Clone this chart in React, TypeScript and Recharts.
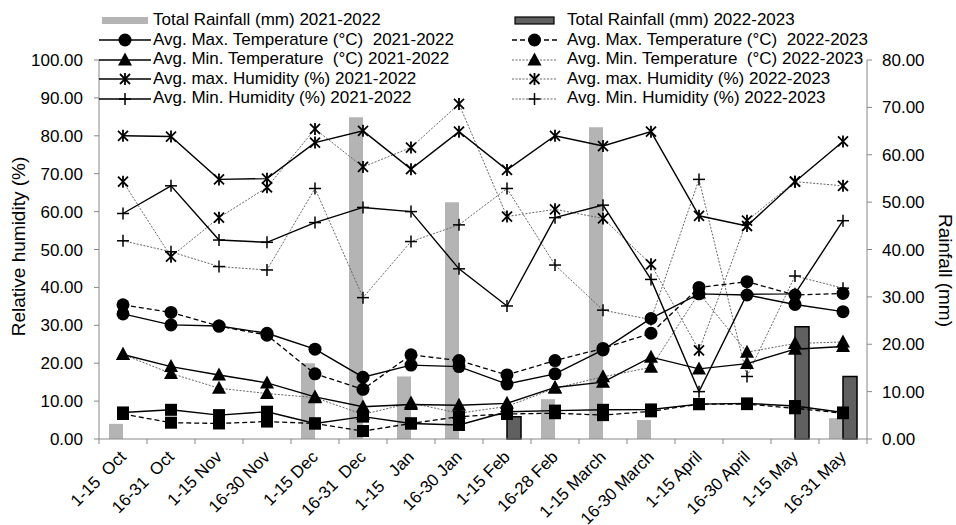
import React from 'react';
import { ComposedChart, Bar, Line, XAxis, YAxis, Legend } from 'recharts';

const FONT = '"Liberation Sans", Arial, sans-serif';

const categories = [
  '1-15  Oct', '16-31  Oct', '1-15 Nov', '16-30 Nov', '1-15 Dec', '16-31  Dec', '1-15   Jan', '16-30 Jan',
  '1-15 Feb', '16-28 Feb', '1-15 March', '16-30 March', '1-15 April', '16-30 April', '1-15 May', '16-31 May',
];

// rainfall (mm), right axis
const rain2122 = [3.2, 0, 0, 0, 16.0, 67.9, 13.2, 50.0, 0, 8.4, 65.8, 4.0, 0, 0, 0, 4.4];
const rain2223 = [0, 0, 0, 0, 0, 0, 0, 0, 4.7, 0, 0, 0, 0, 0, 23.7, 13.2];

// temperature (°C), left axis
const maxT2122 = [33.0, 30.1, 29.8, 27.9, 23.7, 16.3, 19.5, 19.1, 14.5, 17.2, 23.5, 31.8, 38.3, 38.0, 35.5, 33.6];
const maxT2223 = [35.4, 33.4, 29.8, 27.4, 17.2, 13.1, 22.2, 20.7, 16.9, 20.7, 23.9, 27.9, 40.0, 41.5, 38.0, 38.4];
const minT2122 = [22.3, 19.1, 16.9, 14.8, 11.1, 8.5, 9.1, 8.9, 9.4, 13.6, 15.0, 21.6, 18.5, 19.9, 23.7, 24.4];
const minT2223 = [22.3, 17.3, 13.4, 12.0, 10.9, 6.5, 9.5, 6.8, 8.6, 13.4, 16.4, 18.9, 38.5, 22.9, 25.2, 25.6];

// humidity (%), left axis
const maxH2122 = [80.0, 79.8, 68.5, 68.7, 78.2, 81.3, 71.2, 81.1, 71.0, 80.0, 77.3, 81.1, 58.9, 56.2, 67.9, 78.5];
const maxH2223 = [67.9, 48.1, 58.4, 66.4, 81.8, 71.8, 76.9, 88.4, 58.7, 60.6, 58.2, 46.1, 23.4, 57.6, 67.9, 66.8];
const minH2122 = [59.5, 66.8, 52.5, 51.9, 57.1, 61.1, 60.0, 44.9, 35.1, 58.4, 61.7, 42.1, 12.5, 38.2, 38.3, 57.6];
const minH2223 = [52.3, 49.4, 45.5, 44.6, 66.1, 37.3, 52.1, 56.5, 66.1, 45.9, 34.0, 31.5, 68.5, 16.5, 43.0, 39.8];

// square-marker series (no legend entry in the source)
const sq2122 = [7.0, 7.7, 6.3, 7.2, 4.1, 5.9, 4.1, 3.7, 7.2, 7.5, 7.7, 7.8, 9.2, 9.4, 8.7, 7.0];
const sq2223 = [6.6, 4.3, 4.1, 4.6, 4.1, 2.1, 4.1, 5.9, 6.6, 6.8, 6.3, 7.3, 9.2, 9.2, 8.1, 6.8];

const leftTicks = [0, 10, 20, 30, 40, 50, 60, 70, 80, 90, 100];
const rightTicks = [0, 10, 20, 30, 40, 50, 60, 70, 80];

const data = categories.map((cat, i) => ({
  cat,
  rain2122: rain2122[i],
  rain2223: rain2223[i],
  maxT2122: maxT2122[i],
  maxT2223: maxT2223[i],
  minT2122: minT2122[i],
  minT2223: minT2223[i],
  maxH2122: maxH2122[i],
  maxH2223: maxH2223[i],
  minH2122: minH2122[i],
  minH2223: minH2223[i],
  sq2122: sq2122[i],
  sq2223: sq2223[i],
}));

const SOLID = { stroke: '#000', strokeWidth: 1.4 };
const DASHED = { stroke: '#000', strokeWidth: 1.3, strokeDasharray: '5 3' };
const DOTTED = { stroke: '#666', strokeWidth: 1, strokeDasharray: '2 1.5' };

type Shape = 'circle' | 'triangle' | 'star' | 'plus' | 'square';

const Marker = ({ shape, cx, cy }: { shape: Shape; cx: number; cy: number }) => {
  if (cx == null || cy == null) return null;
  if (shape === 'circle') return <circle cx={cx} cy={cy} r={6.5} fill="#000" />;
  if (shape === 'triangle')
    return <path d={`M${cx},${cy - 7.5}L${cx + 7},${cy + 5.5}L${cx - 7},${cy + 5.5}Z`} fill="#000" />;
  if (shape === 'square') return <rect x={cx - 6} y={cy - 6} width={12} height={12} fill="#000" />;
  if (shape === 'star')
    return (
      <g stroke="#000" strokeWidth={1.8}>
        <line x1={cx - 5} y1={cy - 5} x2={cx + 5} y2={cy + 5} />
        <line x1={cx - 5} y1={cy + 5} x2={cx + 5} y2={cy - 5} />
        <line x1={cx} y1={cy - 6} x2={cx} y2={cy + 6} />
      </g>
    );
  return (
    <g stroke="#000" strokeWidth={1.5}>
      <line x1={cx - 6} y1={cy} x2={cx + 6} y2={cy} />
      <line x1={cx} y1={cy - 6} x2={cx} y2={cy + 6} />
    </g>
  );
};

const dotOf = (shape: Shape) => (p: any) => <Marker key={`${shape}-${p.index}`} shape={shape} cx={p.cx} cy={p.cy} />;

const legendLeft = [
  { label: 'Total Rainfall (mm) 2021-2022', kind: 'bar', fill: '#b4b4b4' },
  { label: 'Avg. Max. Temperature (°C)  2021-2022', kind: 'line', shape: 'circle', style: SOLID },
  { label: 'Avg. Min. Temperature  (°C) 2021-2022', kind: 'line', shape: 'triangle', style: SOLID },
  { label: 'Avg. max. Humidity (%) 2021-2022', kind: 'line', shape: 'star', style: SOLID },
  { label: 'Avg. Min. Humidity (%) 2021-2022', kind: 'line', shape: 'plus', style: SOLID },
];
const legendRight = [
  { label: 'Total Rainfall (mm) 2022-2023', kind: 'bar', fill: '#606060' },
  { label: 'Avg. Max. Temperature (°C)  2022-2023', kind: 'line', shape: 'circle', style: DASHED },
  { label: 'Avg. Min. Temperature  (°C) 2022-2023', kind: 'line', shape: 'triangle', style: DOTTED },
  { label: 'Avg. max. Humidity (%) 2022-2023', kind: 'line', shape: 'star', style: DOTTED },
  { label: 'Avg. Min. Humidity (%) 2022-2023', kind: 'line', shape: 'plus', style: DOTTED },
];

const LegendColumn = ({ items, left, swatchW, gap }: any) => (
  <div style={{ position: 'absolute', left, top: 10.5 }}>
    {items.map((it: any) => (
      <div key={it.label} style={{ display: 'flex', alignItems: 'center', height: 19.5 }}>
        <svg width={swatchW} height={19.5} style={{ marginRight: gap }}>
          {it.kind === 'bar' ? (
            <rect x={3} y={6} width={swatchW - 6} height={7} fill={it.fill}
              stroke={it.fill === '#606060' ? '#000' : 'none'} strokeWidth={1.2} />
          ) : (
            <>
              <line x1={0} y1={10} x2={swatchW} y2={10} {...it.style} />
              <Marker shape={it.shape} cx={swatchW / 2} cy={10} />
            </>
          )}
        </svg>
        <span style={{ fontSize: 17, whiteSpace: 'pre', color: '#000' }}>{it.label}</span>
      </div>
    ))}
  </div>
);

const ChartLegend = () => (
  <div style={{ position: 'relative', width: 956, height: 110, fontFamily: FONT }}>
    <LegendColumn items={legendLeft} left={99} swatchW={52} gap={2} />
    <LegendColumn items={legendRight} left={512} swatchW={45} gap={10} />
  </div>
);

const CategoryTick = (props: any) => {
  const { x, y, payload, index } = props;
  const half = payload?.offset ?? 24;
  return (
    <g>
      <line x1={x - half} y1={y} x2={x - half} y2={y + 5} stroke="#888" />
      {index === categories.length - 1 && <line x1={x + half} y1={y} x2={x + half} y2={y + 5} stroke="#888" />}
      <text transform={`translate(${x + 4},${y + 19}) rotate(-45)`} textAnchor="end" fontSize={17}
        fill="#000" fontFamily={FONT} style={{ whiteSpace: 'pre' }}>
        {payload.value}
      </text>
    </g>
  );
};

const AxisTitle = ({ viewBox, text, side }: any) => {
  const cy = viewBox.y + viewBox.height / 2;
  const cx = side === 'left' ? 18 : 945;
  const dy = side === 'left' ? -3 : 21;
  return (
    <text x={cx} y={cy + dy} transform={`rotate(${side === 'left' ? -90 : 90},${cx},${cy + dy})`}
      textAnchor="middle" dominantBaseline="central" fontSize={19} fill="#000" fontFamily={FONT}>
      {text}
    </text>
  );
};

const fmt = (v: number) => v.toFixed(2);

export default function App() {
  return (
    <div style={{ position: 'absolute', left: 0, top: 0, background: '#fff', fontFamily: FONT }}>
      <ComposedChart width={956} height={525} data={data} margin={{ top: 60, right: 0, bottom: 0, left: 0 }}
        barSize={14} barGap={0}>
        <XAxis dataKey="cat" interval={0} height={86} tickLine={false} tickSize={0} tickMargin={0}
          axisLine={{ stroke: '#888' }} tick={<CategoryTick />} />
        <YAxis yAxisId="left" domain={[0, 100]} ticks={leftTicks} width={99} tickFormatter={fmt}
          tickSize={5} tickMargin={11} axisLine={{ stroke: '#888' }} tickLine={{ stroke: '#888' }}
          tick={{ fill: '#000', fontSize: 17, fontFamily: FONT }}
          label={<AxisTitle text="Relative humidity (%)" side="left" />} />
        <YAxis yAxisId="right" orientation="right" domain={[0, 80]} ticks={rightTicks} width={89}
          tickFormatter={fmt} tickSize={5} tickMargin={10} axisLine={{ stroke: '#888' }} tickLine={{ stroke: '#888' }}
          tick={{ fill: '#000', fontSize: 17, fontFamily: FONT }}
          label={<AxisTitle text="Rainfall (mm)" side="right" />} />
        <Legend layout="horizontal" verticalAlign="middle" align="center" content={<ChartLegend />}
          wrapperStyle={{ top: 0, left: 0, width: 956, height: 110 }} />

        <Bar yAxisId="right" dataKey="rain2122" name="Total Rainfall (mm) 2021-2022" fill="#b4b4b4"
          isAnimationActive={false} />
        <Bar yAxisId="right" dataKey="rain2223" name="Total Rainfall (mm) 2022-2023" fill="#606060"
          stroke="#000" strokeWidth={1.5} isAnimationActive={false} />

        <Line yAxisId="left" dataKey="sq2122" {...SOLID} dot={dotOf('square')} activeDot={false}
          legendType="none" isAnimationActive={false} />
        <Line yAxisId="left" dataKey="sq2223" {...DASHED} dot={dotOf('square')} activeDot={false}
          legendType="none" isAnimationActive={false} />

        <Line yAxisId="left" dataKey="minH2223" {...DOTTED} dot={dotOf('plus')} activeDot={false} isAnimationActive={false} />
        <Line yAxisId="left" dataKey="maxH2223" {...DOTTED} dot={dotOf('star')} activeDot={false} isAnimationActive={false} />
        <Line yAxisId="left" dataKey="minT2223" {...DOTTED} dot={dotOf('triangle')} activeDot={false} isAnimationActive={false} />
        <Line yAxisId="left" dataKey="maxT2223" {...DASHED} dot={dotOf('circle')} activeDot={false} isAnimationActive={false} />

        <Line yAxisId="left" dataKey="minH2122" {...SOLID} dot={dotOf('plus')} activeDot={false} isAnimationActive={false} />
        <Line yAxisId="left" dataKey="maxH2122" {...SOLID} dot={dotOf('star')} activeDot={false} isAnimationActive={false} />
        <Line yAxisId="left" dataKey="minT2122" {...SOLID} dot={dotOf('triangle')} activeDot={false} isAnimationActive={false} />
        <Line yAxisId="left" dataKey="maxT2122" {...SOLID} dot={dotOf('circle')} activeDot={false} isAnimationActive={false} />
      </ComposedChart>
    </div>
  );
}
